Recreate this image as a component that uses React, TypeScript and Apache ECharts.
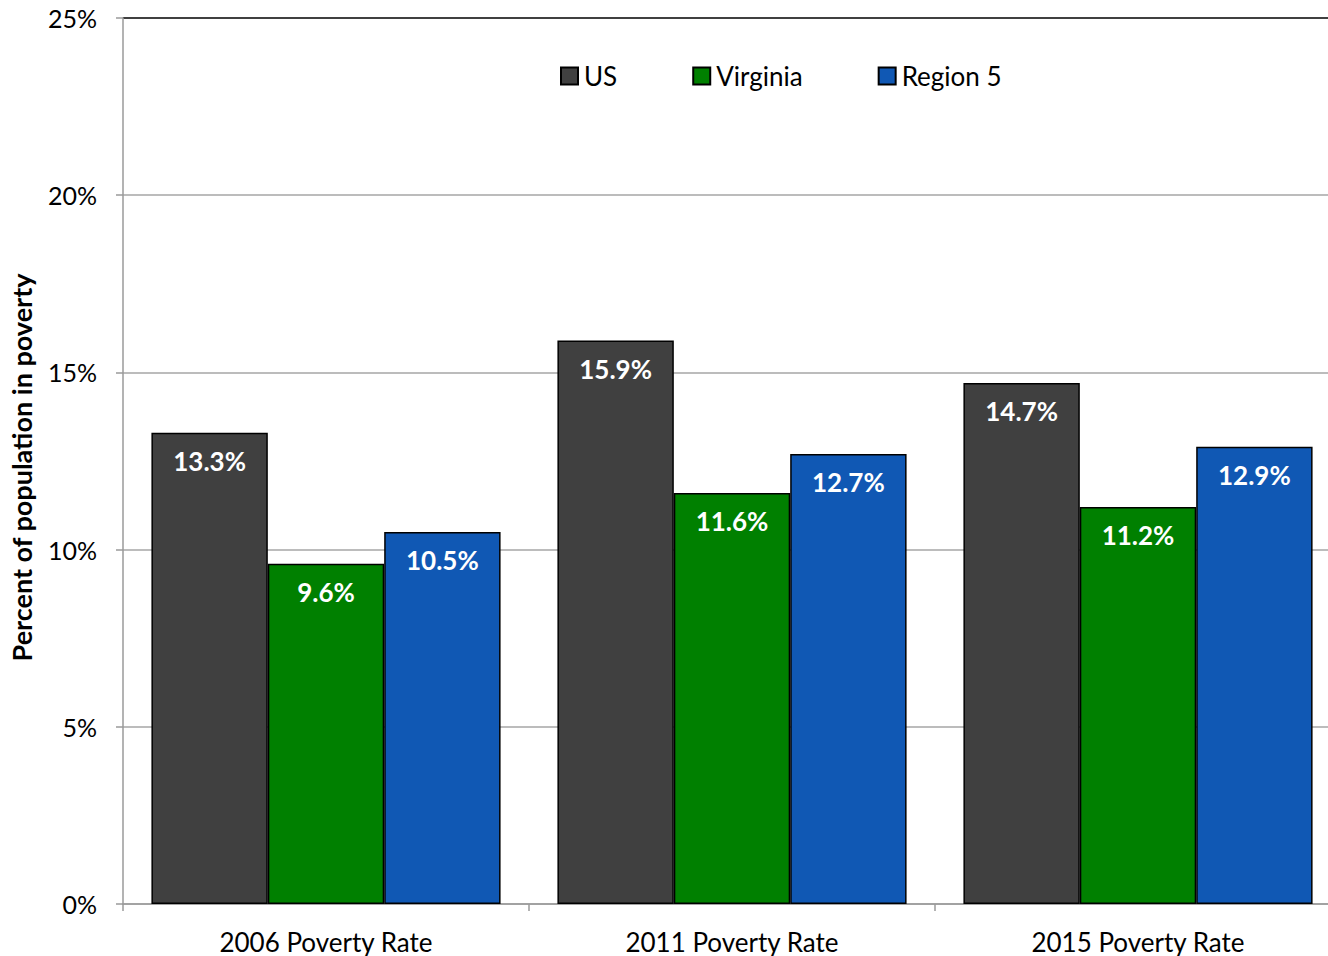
import React, { useEffect, useRef } from "react";
import * as echarts from "echarts";

const categories = ["2006 Poverty Rate", "2011 Poverty Rate", "2015 Poverty Rate"];
const seriesNames = ["US", "Virginia", "Region 5"];
const usValues = [13.3, 15.9, 14.7];
const virginiaValues = [9.6, 11.6, 11.2];
const region5Values = [10.5, 12.7, 12.9];
const seriesColors = ["#404040", "#008000", "#1058b4"];

const FONT = "Lato, 'Open Sans', sans-serif";

export default function App() {
  const ref = useRef<HTMLDivElement>(null);
  useEffect(() => {
    if (!ref.current) return;
    const chart = echarts.init(ref.current, null, { renderer: "svg" });
    const values = [usValues, virginiaValues, region5Values];
    chart.setOption({
      animation: false,
      backgroundColor: "#ffffff",
      textStyle: { fontFamily: FONT },
      legend: {
        left: 560,
        top: 63,
        padding: 0,
        itemWidth: 17,
        itemHeight: 17,
        itemGap: 75,
        icon: "rect",
        textStyle: { fontSize: 26, color: "#000", fontFamily: FONT, padding: [0, 0, 0, 1] },
        data: seriesNames,
      },
      grid: {
        left: 123,
        right: -13,
        top: 18,
        bottom: 52,
        containLabel: false,
        outerBoundsMode: "none",
      },
      xAxis: {
        type: "category",
        data: categories,
        axisLine: { lineStyle: { color: "#9a9a9a", width: 1.5 } },
        axisTick: { show: true, length: 7, inside: false, lineStyle: { color: "#9a9a9a", width: 1.5 } },
        axisLabel: { fontSize: 26, lineHeight: 24, color: "#000", margin: 26, fontFamily: FONT },
      },
      yAxis: {
        type: "value",
        min: 0,
        max: 25,
        interval: 5,
        name: "Percent of population in poverty",
        nameLocation: "middle",
        nameGap: 88,
        nameTextStyle: {
          fontSize: 27,
          fontWeight: "bold",
          color: "#000",
          fontFamily: FONT,
          padding: [0, 13, 0, 0],
        },
        axisLine: { show: true, lineStyle: { color: "#9a9a9a", width: 1.5 } },
        axisTick: { show: true, length: 7, lineStyle: { color: "#9a9a9a", width: 1.5 } },
        axisLabel: { fontSize: 25, color: "#000", margin: 26, formatter: "{value}%", fontFamily: FONT },
        splitLine: {
          show: true,
          lineStyle: {
            color: ["#a6a6a6", "#a6a6a6", "#a6a6a6", "#a6a6a6", "#a6a6a6", "#000000"],
            width: 1.5,
          },
        },
      },
      series: seriesNames.map((name, i) => ({
        name,
        type: "bar",
        data: values[i],
        barGap: "0%",
        barCategoryGap: "14%",
        itemStyle: { color: seriesColors[i], borderColor: "#000", borderWidth: 1.5 },
        label: {
          show: true,
          position: "insideTop",
          distance: 15,
          formatter: (p: any) => p.value.toFixed(1) + "%",
          fontSize: 26,
          fontWeight: "bold",
          color: "#ffffff",
          fontFamily: FONT,
        },
      })),
    });
    return () => chart.dispose();
  }, []);
  return (
    <div
      ref={ref}
      style={{ position: "fixed", left: 0, top: 0, width: 1328, height: 956 }}
    />
  );
}
